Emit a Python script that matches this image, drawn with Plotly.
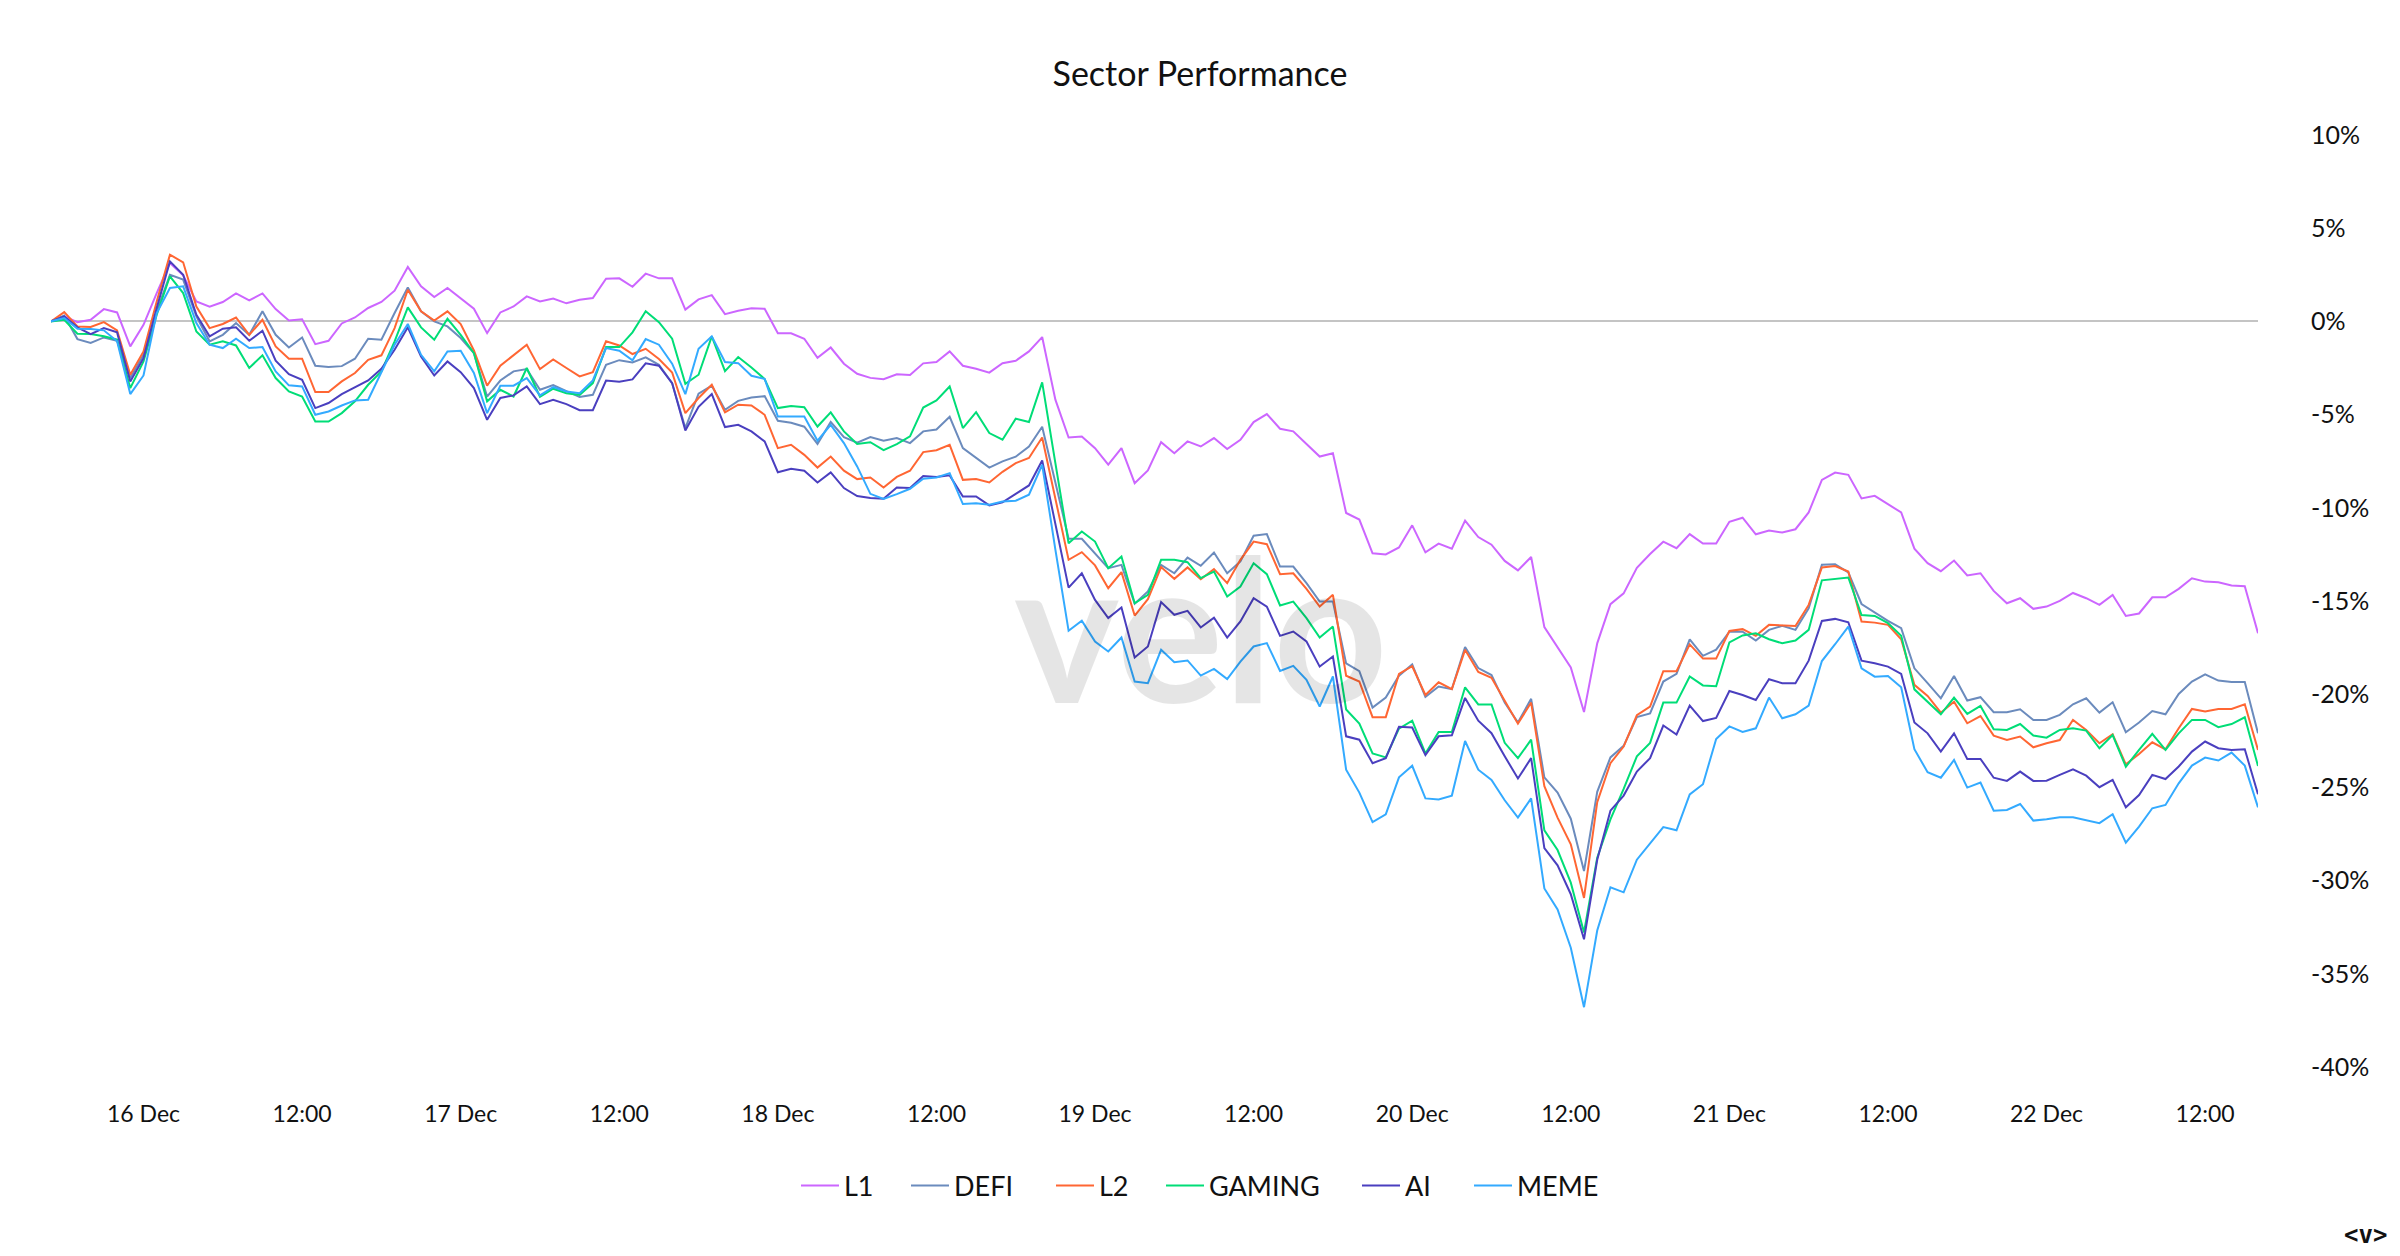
import pandas as pd
import plotly.graph_objects as go

# ---------------- data (hourly, % change since start) ----------------
start_time = "2024-12-15 17:00"
n_points = 168
times = pd.date_range(start_time, periods=n_points, freq="h")

series_names = ["L1", "DEFI", "L2", "GAMING", "AI", "MEME"]
series_colors = ["#cc66ff", "#6b8bbd", "#ff6633", "#00dd77", "#4a3fbf", "#33aaff"]

L1 = [0, 0.27, -0.04, 0.09, 0.66, 0.48, -1.34, -0.18, 1.52, 3.13, 2.47, 1.07, 0.79, 1.04, 1.50, 1.13, 1.50, 0.66, 0.05, 0.11,
      -1.22, -1.04, -0.11, 0.21, 0.72, 1.04, 1.65, 2.92, 1.88, 1.31, 1.79, 1.25, 0.68, -0.63, 0.48, 0.80, 1.34,
      1.07, 1.23, 0.97, 1.16, 1.25, 2.29, 2.31, 1.86, 2.56, 2.31, 2.31, 0.63, 1.18, 1.41, 0.39, 0.57, 0.70, 0.68, -0.63, -0.64,
      -0.93, -1.95, -1.40, -2.27, -2.81, -3.03, -3.10, -2.84, -2.88, -2.25, -2.18, -1.61, -2.38, -2.54, -2.75, -2.24, -2.11, -1.61, -0.84,
      -4.20, -6.23, -6.17, -6.80, -7.69, -6.80, -8.68, -8.00, -6.48, -7.07, -6.44, -6.71, -6.26, -6.85, -6.35, -5.40, -4.97, -5.76,
      -5.90, -6.58, -7.25, -7.07,
      -10.28, -10.63, -12.44, -12.50, -12.13, -10.94, -12.39, -11.92, -12.19, -10.69, -11.57, -11.98, -12.85, -13.36, -12.64, -16.40,
      -17.47, -18.56, -20.96, -17.27, -15.17, -14.59, -13.22, -12.48, -11.82, -12.17, -11.41, -11.92, -11.92, -10.75, -10.53,
      -11.42, -11.22, -11.33, -11.15, -10.25, -8.50, -8.11, -8.23, -9.50, -9.36, -9.81, -10.25, -12.19, -12.97, -13.40, -12.83, -13.63,
      -13.51, -14.46, -15.12, -14.85, -15.42, -15.30, -14.99, -14.57, -14.85, -15.21, -14.67, -15.80, -15.67, -14.80, -14.80, -14.35,
      -13.78, -13.96, -14.00, -14.17, -14.21, -16.73]

DEFI = [0, 0.32, -0.95, -1.16, -0.86, -1.04, -3.04, -1.79, 0.54, 2.50, 2.24, 0.27, -1.07, -0.72, -0.09, -0.72, 0.54, -0.72, -1.40,
        -0.86, -2.38, -2.45, -2.40, -2.00, -0.93, -0.98, 0.45, 1.82, 0.54, 0, -0.27, -0.89, -1.70, -4.03, -3.17, -2.68, -2.56,
        -3.67, -3.42, -3.72, -4.06, -3.94, -2.33, -2.08, -2.20, -1.93, -2.33, -3.31, -5.72, -3.88, -3.45, -4.74, -4.26, -4.08, -4.01,
        -5.33, -5.44, -5.65, -6.57, -5.40, -6.21, -6.51, -6.21, -6.40, -6.26, -6.53, -5.90, -5.80, -5.12, -6.80, -7.30, -7.84, -7.51,
        -7.26, -6.71, -5.65,
        -8.64, -11.66, -11.66, -12.43, -13.24, -13.06, -15.15, -14.49, -13.06, -13.51, -12.67, -13.11, -12.40, -13.51, -12.88, -11.50,
        -11.41, -13.15, -13.15, -14.04, -15.03, -15.03,
        -18.35, -18.76, -20.72, -20.18, -19.01, -18.40, -20.14, -19.59, -19.73, -17.47, -18.60, -18.97, -20.45, -21.52, -20.25, -24.46,
        -25.28, -26.68, -29.49, -25.24, -23.39, -22.77, -21.23, -21.03, -19.32, -18.91, -17.06, -17.94, -17.61, -16.65, -16.65,
        -17.12, -16.55, -16.33, -16.55, -15.39, -13.06, -13.03, -13.47, -15.16, -15.62, -16.07, -16.46, -18.61, -19.41, -20.22, -19.02,
        -20.34, -20.16, -20.97, -20.97, -20.81, -21.38, -21.38, -21.11, -20.54, -20.22, -20.99, -20.43, -22.04, -21.52, -20.90, -21.08,
        -19.99, -19.32, -18.93, -19.27, -19.34, -19.34, -22.10]

L2 = [0, 0.50, -0.27, -0.30, -0.04, -0.48, -2.86, -1.61, 1.07, 3.58, 3.17, 0.80, -0.36, -0.14, 0.21, -0.72, 0.09, -1.34, -2.00, -2.00,
      -3.79, -3.79, -3.22, -2.77, -2.06, -1.82, -0.36, 1.70, 0.54, 0.05, 0.54, -0.14, -1.56, -3.45, -2.38, -1.82, -1.25,
      -2.56, -2.04, -2.50, -2.95, -2.72, -1.07, -1.29, -1.75, -1.47, -2.02, -2.74, -4.92, -4.11, -3.40, -4.88, -4.47, -4.51, -5.01,
      -6.80, -6.62, -7.16, -7.84, -7.25, -8.01, -8.46, -8.37, -8.91, -8.34, -8.01, -7.01, -6.91, -6.62, -8.50, -8.46, -8.64, -8.07,
      -7.60, -7.33, -6.23,
      -9.48, -12.79, -12.38, -13.09, -14.31, -13.45, -15.78, -14.90, -13.18, -13.81, -13.20, -13.83, -13.29, -14.04, -12.79, -11.81,
      -11.95, -13.56, -13.51, -14.35, -15.30, -14.67,
      -19.01, -19.32, -21.23, -21.23, -18.91, -18.50, -20.04, -19.36, -19.73, -17.62, -18.81, -19.12, -20.35, -21.58, -20.45, -24.93,
      -26.62, -28.05, -30.93, -25.79, -23.70, -22.81, -21.13, -20.66, -18.77, -18.77, -17.33, -18.09, -18.09, -16.61, -16.51,
      -16.87, -16.28, -16.32, -16.34, -15.21, -13.20, -13.12, -13.42, -16.10, -16.16, -16.28, -17.05, -19.50, -20.09, -20.99, -20.40,
      -21.56, -21.17, -22.22, -22.46, -22.27, -22.85, -22.63, -22.46, -21.38, -21.92, -22.63, -22.15, -23.76, -23.21, -22.58, -22.96,
      -21.83, -20.79, -20.93, -20.79, -20.79, -20.54, -22.99]

GAMING = [0, 0.09, -0.66, -0.68, -0.80, -0.98, -3.58, -2.15, 0.36, 2.42, 1.52, -0.54, -1.25, -1.07, -1.29, -2.50, -1.82, -3.04, -3.76,
          -4.03, -5.37, -5.37, -4.92, -4.29, -3.40, -2.68, -1.07, 0.75, -0.32, -0.98, 0.14, -0.72, -1.70, -4.29, -3.67, -4.03, -2.50,
          -4.04, -3.61, -3.85, -3.94, -3.31, -1.38, -1.38, -0.59, 0.54, -0.04, -0.93, -3.35, -2.86, -0.80, -2.67, -1.91, -2.47, -3.09,
          -4.65, -4.54, -4.60, -5.64, -4.88, -5.90, -6.58, -6.48, -6.91, -6.58, -6.17, -4.62, -4.24, -3.49, -5.72, -4.87, -5.99, -6.35,
          -5.22, -5.40, -3.27,
          -7.60, -11.90, -11.27, -11.81, -13.24, -12.61, -15.12, -14.67, -12.79, -12.79, -12.92, -13.77, -13.42, -14.76, -14.22, -12.97,
          -13.56, -15.24, -15.03, -15.92, -16.96, -16.37,
          -20.82, -21.58, -23.18, -23.39, -21.85, -21.42, -23.18, -22.03, -22.03, -19.63, -20.55, -20.55, -22.61, -23.43, -22.44, -27.30,
          -28.36, -30.11, -32.78, -28.77, -26.72, -25.08, -23.33, -22.61, -20.45, -20.45, -19.05, -19.53, -19.57, -17.22, -16.85,
          -16.73, -17.05, -17.27, -17.12, -16.55, -13.89, -13.81, -13.74, -15.75, -15.80, -16.19, -16.87, -19.74, -20.40, -21.08, -20.18,
          -21.06, -20.63, -21.88, -21.92, -21.60, -22.22, -22.33, -21.92, -21.83, -21.95, -22.90, -22.19, -23.89, -22.99, -22.13, -22.99,
          -22.10, -21.38, -21.38, -21.77, -21.60, -21.24, -23.85]

AI = [0, 0.27, -0.32, -0.68, -0.36, -0.59, -3.22, -1.97, 0.72, 3.22, 2.50, 0.36, -0.80, -0.39, -0.32, -1.04, -0.50, -2.11, -2.83, -3.13,
      -4.65, -4.38, -3.90, -3.52, -3.17, -2.54, -1.52, -0.32, -1.88, -2.90, -2.15, -2.72, -3.58, -5.28, -4.11, -3.97, -3.49,
      -4.44, -4.20, -4.44, -4.76, -4.76, -3.17, -3.24, -3.11, -2.25, -2.38, -3.31, -5.85, -4.58, -3.90, -5.67, -5.55, -5.90, -6.44,
      -8.09, -7.91, -8.01, -8.64, -8.10, -8.94, -9.37, -9.48, -9.52, -8.91, -8.94, -8.30, -8.35, -8.26, -9.39, -9.39, -9.87, -9.71,
      -9.25, -8.80, -7.46,
      -10.87, -14.28, -13.51, -14.94, -15.92, -15.35, -18.03, -17.44, -15.06, -15.74, -15.53, -16.42, -15.89, -16.96, -16.10, -14.85,
      -15.30, -16.87, -16.64, -17.17, -18.52, -17.98,
      -22.26, -22.44, -23.70, -23.43, -21.75, -21.79, -23.27, -22.26, -22.20, -20.20, -21.42, -22.09, -23.33, -24.52, -23.43, -28.26,
      -29.18, -30.73, -33.15, -28.88, -26.25, -25.44, -24.15, -23.43, -21.68, -22.16, -20.61, -21.44, -21.27, -19.83, -20.04,
      -20.31, -19.20, -19.41, -19.41, -18.20, -16.07, -15.96, -16.14, -18.20, -18.34, -18.52, -18.91, -21.52, -22.10, -23.08, -22.10,
      -23.47, -23.47, -24.48, -24.65, -24.15, -24.65, -24.64, -24.33, -24.03, -24.37, -24.99, -24.60, -26.07, -25.41, -24.33, -24.55,
      -23.88, -23.08, -22.54, -22.90, -22.99, -22.95, -25.37]

MEME = [0, 0.18, -0.39, -0.41, -0.48, -1.07, -3.90, -2.90, 0.45, 1.79, 1.88, -0.09, -1.25, -1.43, -0.93, -1.43, -1.38, -2.68, -3.43,
        -3.49, -5.01, -4.83, -4.51, -4.24, -4.20, -2.68, -1.25, -0.14, -1.79, -2.68, -1.61, -1.57, -2.77, -4.92, -3.45, -3.45, -3.04,
        -3.97, -3.52, -3.76, -3.85, -3.17, -1.43, -1.57, -2.09, -0.95, -1.25, -2.27, -3.90, -1.47, -0.80, -2.18, -2.24, -2.92, -3.08,
        -5.10, -5.10, -5.10, -6.40, -5.55, -6.53, -7.78, -9.25, -9.52, -9.27, -8.98, -8.44, -8.37, -8.14, -9.80, -9.75, -9.84, -9.66,
        -9.62, -9.30, -7.69,
        -12.24, -16.60, -16.06, -17.17, -17.71, -16.96, -19.32, -19.41, -17.62, -18.28, -18.19, -19.00, -18.64, -19.19, -18.25, -17.44,
        -17.26, -18.75, -18.48, -19.23, -20.66, -19.05,
        -24.05, -25.28, -26.86, -26.45, -24.46, -23.84, -25.59, -25.65, -25.44, -22.51, -24.05, -24.60, -25.69, -26.62, -25.59, -30.42,
        -31.55, -33.60, -36.79, -32.68, -30.36, -30.63, -28.88, -28.01, -27.13, -27.30, -25.38, -24.83, -22.40, -21.73, -22.03,
        -21.83, -20.18, -21.29, -21.08, -20.61, -18.22, -17.32, -16.37, -18.61, -19.06, -19.02, -19.63, -22.95, -24.19, -24.48, -23.53,
        -25.01, -24.74, -26.25, -26.21, -25.89, -26.78, -26.71, -26.60, -26.60, -26.78, -26.92, -26.44, -27.96, -27.10, -26.12, -25.94,
        -24.78, -23.83, -23.40, -23.56, -23.13, -23.83, -26.07]

series_values = [L1, DEFI, L2, GAMING, AI, MEME]

x_tick_times = ["2024-12-16 00:00", "2024-12-16 12:00", "2024-12-17 00:00", "2024-12-17 12:00",
                "2024-12-18 00:00", "2024-12-18 12:00", "2024-12-19 00:00", "2024-12-19 12:00",
                "2024-12-20 00:00", "2024-12-20 12:00", "2024-12-21 00:00", "2024-12-21 12:00",
                "2024-12-22 00:00", "2024-12-22 12:00"]
x_tick_labels = ["16 Dec", "12:00", "17 Dec", "12:00", "18 Dec", "12:00", "19 Dec", "12:00",
                 "20 Dec", "12:00", "21 Dec", "12:00", "22 Dec", "12:00"]
y_tick_values = [10, 5, 0, -5, -10, -15, -20, -25, -30, -35, -40]
y_tick_labels = ["10%", "5%", "0%", "-5%", "-10%", "-15%", "-20%", "-25%", "-30%", "-35%", "-40%"]

# legend entry left edges (page pixels) – one small legend per series
legend_left_px = [796, 906, 1051, 1161, 1357, 1469]

# ---------------- figure ----------------
FONT = "Lato, 'Open Sans', sans-serif"
W, H = 2400, 1256

fig = go.Figure()
legend_ids = ["legend"] + ["legend%d" % k for k in range(2, len(series_names) + 1)]
for name, vals, col, lid in zip(series_names, series_values, series_colors, legend_ids):
    fig.add_trace(go.Scatter(x=times, y=vals, mode="lines", name=name, legend=lid,
                             line=dict(color=col, width=2)))

legend_layouts = {}
for lid, left in zip(legend_ids, legend_left_px):
    legend_layouts[lid] = dict(orientation="h", xref="container", x=left / W, xanchor="left",
                               yref="container", y=1 - 1186 / H, yanchor="middle",
                               font=dict(size=27, color="#111111", family=FONT), itemwidth=38,
                               bgcolor="rgba(0,0,0,0)", borderwidth=0)

fig.update_layout(
    width=W, height=H,
    paper_bgcolor="white", plot_bgcolor="white",
    margin=dict(l=51, r=142, t=135, b=189),
    font=dict(family=FONT, color="#111111"),
    title=dict(text="Sector Performance", x=0.5, xref="container", xanchor="center",
               y=1 - 74 / H, yref="container", yanchor="middle",
               font=dict(size=34, color="#111111", family=FONT)),
    showlegend=True,
    xaxis=dict(showgrid=False, zeroline=False, showline=False, ticks="",
               tickvals=x_tick_times, ticktext=x_tick_labels,
               tickfont=dict(size=23, color="#111111"), ticklabelstandoff=31),
    yaxis=dict(side="right", range=[-40, 10], showgrid=False, showline=False, ticks="",
               zeroline=True, zerolinecolor="#c4c4c4", zerolinewidth=2,
               tickvals=y_tick_values, ticktext=y_tick_labels,
               tickfont=dict(size=25, color="#111111"), ticklabelstandoff=52),
    annotations=[
        dict(text="<b>velo</b>", xref="paper", yref="paper", x=(1201 - 51) / (W - 51 - 142),
             y=(1067 - 626) / (1067 - 135), xanchor="center", yanchor="middle", showarrow=False,
             font=dict(size=200, color="rgba(0,0,0,0.1)", family=FONT)),
        dict(text="<b>&lt;v&gt;</b>", xref="paper", yref="paper", x=(2365 - 51) / (W - 51 - 142),
             y=(1067 - 1235) / (1067 - 135), xanchor="center", yanchor="middle", showarrow=False,
             font=dict(size=24, color="#111111", family="'DejaVu Sans Mono', monospace")),
    ],
    **legend_layouts,
)

fig.write_html("out.html")
